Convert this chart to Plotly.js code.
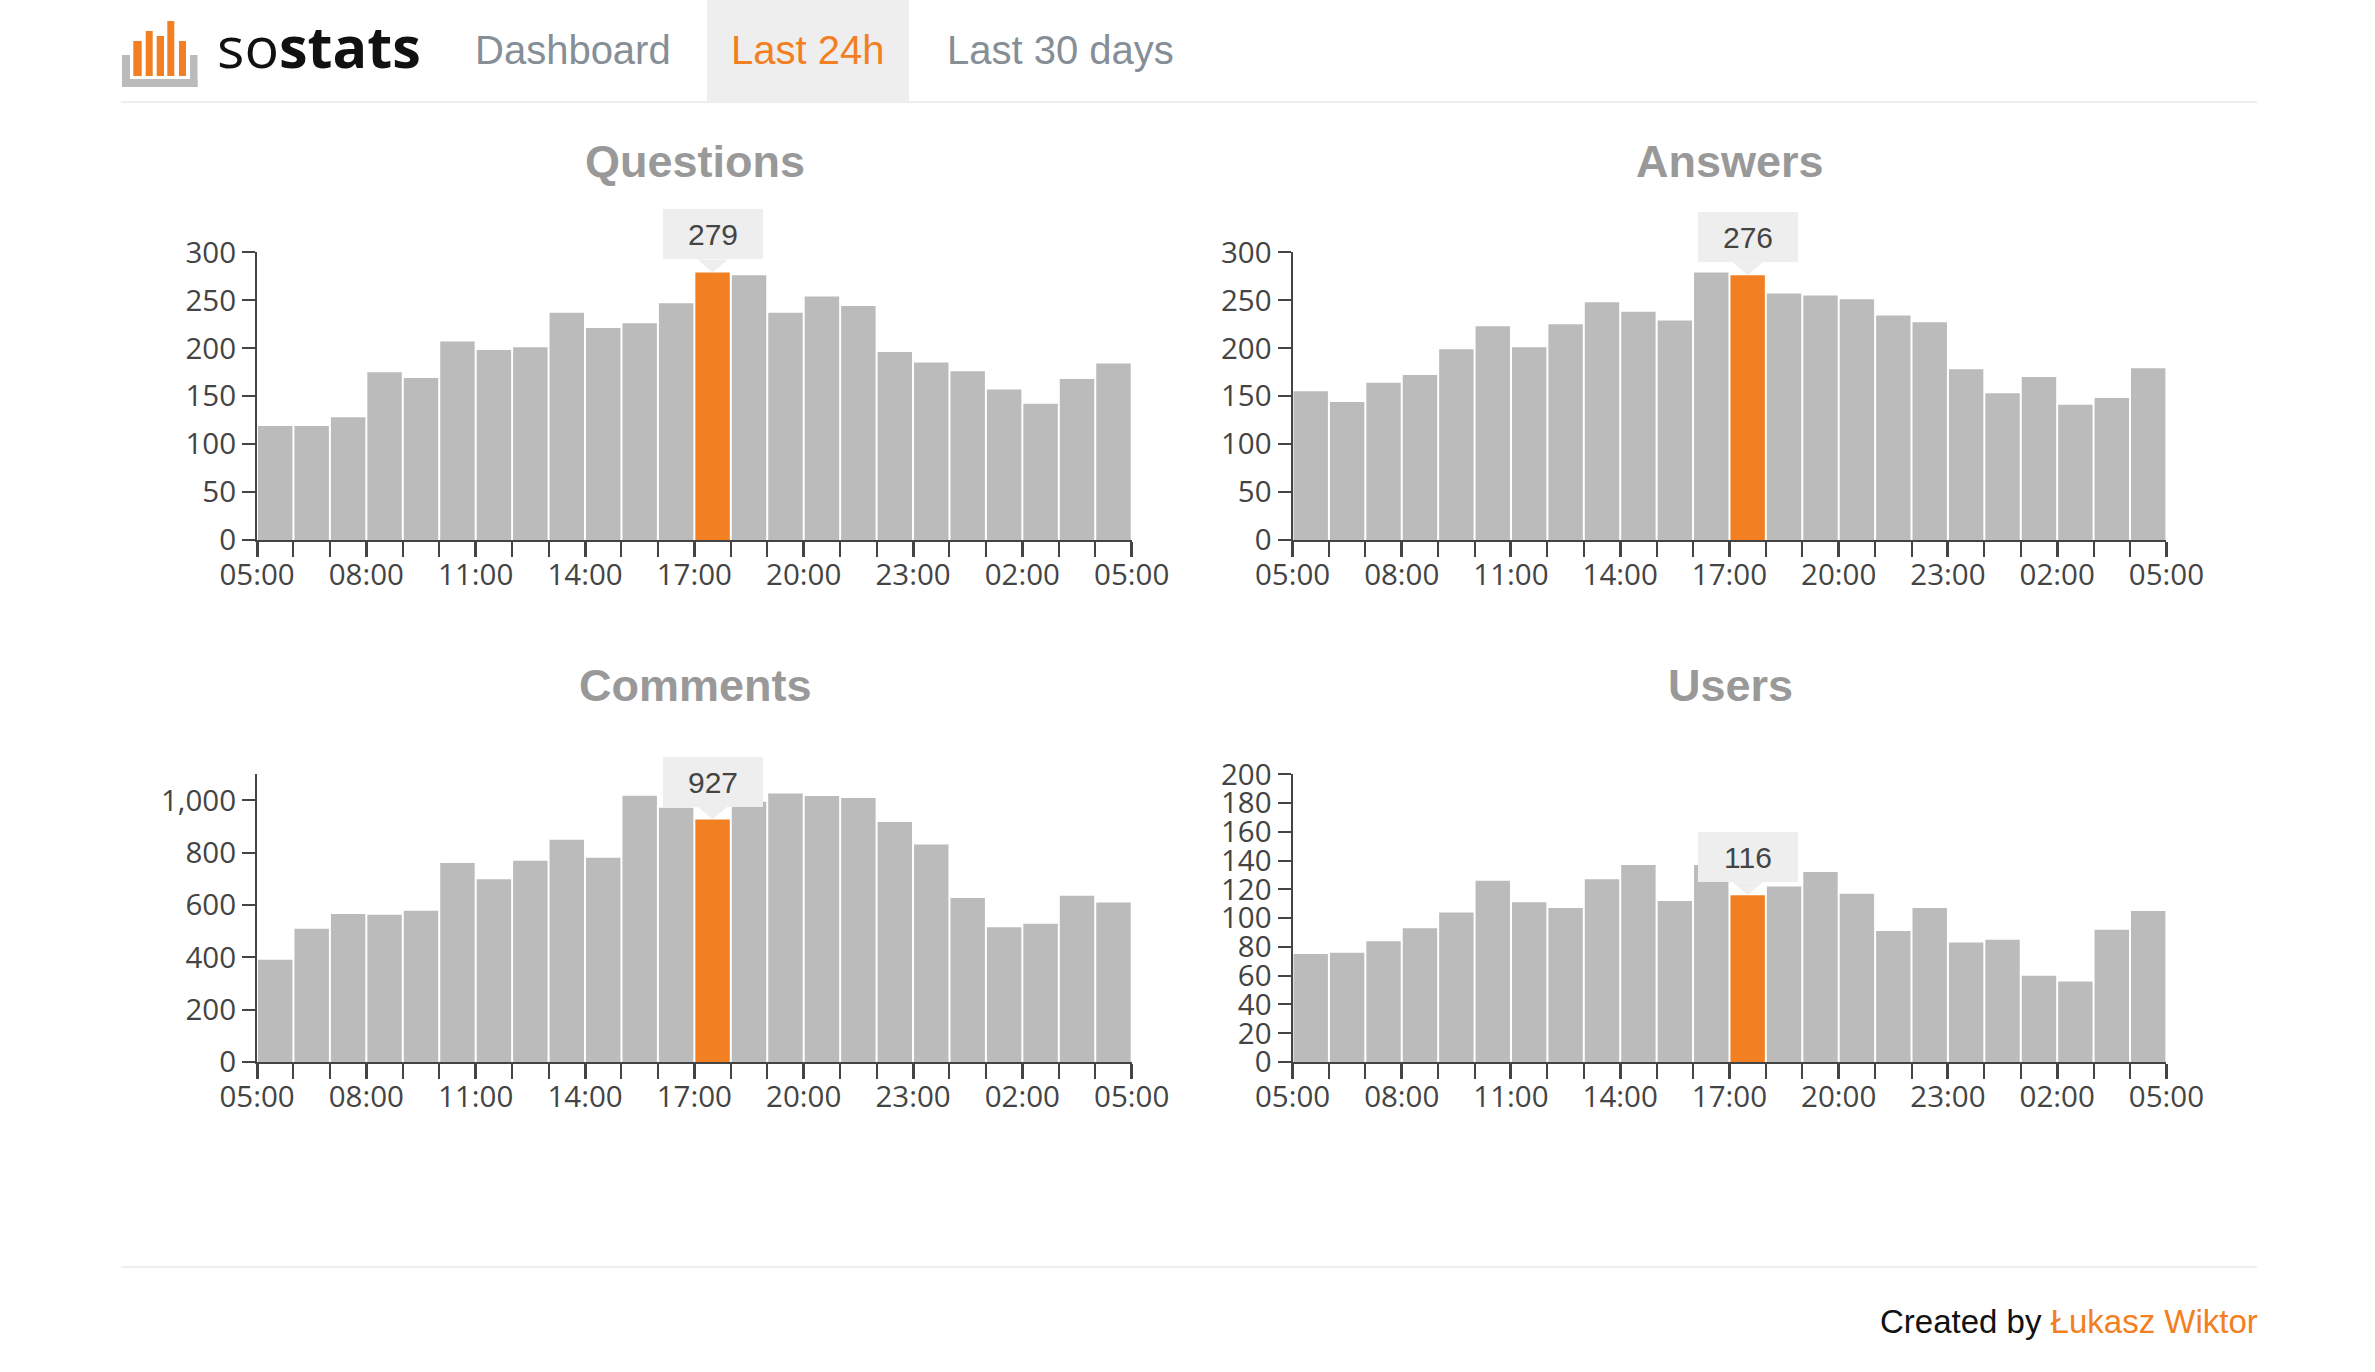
<!DOCTYPE html>
<html>
<head>
<meta charset="utf-8">
<script src="https://cdn.plot.ly/plotly-3.0.1.min.js"></script>
<style>
  html, body { margin: 0; padding: 0; background: #fff; }
  #chart { width: 2375px; height: 1372px; }
</style>
</head>
<body>
<div id="chart"></div>
<script>
// ---------- data ----------
const hourLabels = ['05:00','06:00','07:00','08:00','09:00','10:00','11:00','12:00','13:00','14:00','15:00','16:00',
                    '17:00','18:00','19:00','20:00','21:00','22:00','23:00','00:00','01:00','02:00','03:00','04:00'];
const tickLabels = ['05:00','08:00','11:00','14:00','17:00','20:00','23:00','02:00','05:00'];
const highlightHour = '17:00';

const chartTitles = ['Questions', 'Answers', 'Comments', 'Users'];
const questions = [119,119,128,175,169,207,198,201,237,221,226,247,279,276,237,254,244,196,185,176,157,142,168,184];
const answers   = [155,144,164,172,199,223,201,225,248,238,229,279,276,257,255,251,234,227,178,153,170,141,148,179];
const comments  = [391,509,566,563,578,761,699,769,850,781,1018,972,927,995,1027,1017,1009,918,832,627,515,529,636,610];
const users     = [75,76,84,93,104,126,111,107,127,137,112,137,116,122,132,117,91,107,83,85,60,56,92,105];
const yMax  = [300, 300, 1100, 200];
const yStep = [50, 50, 200, 20];

// ---------- page geometry ----------
const W = 2375, H = 1372;
const px = x => x / W;
const py = y => 1 - y / H;

const GRAY = '#bbbbbb', ORANGE = '#f28022', AXIS = '#444444';
const SANS = 'Liberation Sans, Arial, Helvetica, sans-serif';
const TICKFONT = 'Open Sans, Noto Sans, sans-serif';

const seriesList = [questions, answers, comments, users];
const hiIndex = hourLabels.indexOf(highlightHour);
const xCenters = hourLabels.map((h, i) => i + 0.5);
const tickVals = tickLabels.map((t, i) => i * 3);

// plot boxes (pixels): [left, right, top, bottom]
const boxes = [
  [257, 1131.7, 252.3, 540],
  [1292.5, 2166.4, 252.3, 540],
  [257, 1131.7, 774.3, 1062],
  [1292.5, 2166.4, 774.3, 1062]
];
const titleY = [162, 162, 685, 685];

const data = [];
const layout = {
  width: W, height: H,
  margin: {l: 0, r: 0, t: 0, b: 0},
  paper_bgcolor: '#ffffff',
  plot_bgcolor: 'rgba(0,0,0,0)',
  showlegend: false,
  bargap: 0.055,
  hovermode: false,
  annotations: [],
  shapes: []
};

seriesList.forEach((vals, k) => {
  const n = k === 0 ? '' : String(k + 1);
  const b = boxes[k];
  data.push({
    type: 'bar',
    x: xCenters,
    y: vals,
    xaxis: 'x' + n,
    yaxis: 'y' + n,
    marker: { color: vals.map((v, i) => i === hiIndex ? ORANGE : GRAY), line: {width: 0} },
    hoverinfo: 'skip'
  });
  layout['xaxis' + n] = {
    domain: [px(b[0]), px(b[1])],
    anchor: 'y' + n,
    range: [0, hourLabels.length],
    tickmode: 'array', tickvals: tickVals, ticktext: tickLabels,
    ticks: 'outside', ticklen: 15, tickwidth: 3, tickcolor: AXIS,
    ticklabelstandoff: -7,
    minor: {tickmode: 'linear', tick0: 0, dtick: 1, ticks: 'outside', ticklen: 15, tickwidth: 2, tickcolor: AXIS, showgrid: false},
    showline: true, linecolor: AXIS, linewidth: 2,
    showgrid: false, zeroline: false, fixedrange: true,
    tickfont: {family: TICKFONT, size: 29.5, color: AXIS}
  };
  layout['yaxis' + n] = {
    domain: [py(b[3]), py(b[2])],
    anchor: 'x' + n,
    range: [0, yMax[k]],
    tickmode: 'linear', tick0: 0, dtick: yStep[k],
    tickformat: ',d',
    ticks: 'outside', ticklen: 13, tickwidth: 2, tickcolor: AXIS,
    showline: true, linecolor: AXIS, linewidth: 2,
    showgrid: false, zeroline: false, fixedrange: true,
    tickfont: {family: TICKFONT, size: 29.5, color: AXIS}
  };
  // chart title
  layout.annotations.push({
    xref: 'paper', yref: 'paper', x: px((b[0] + b[1]) / 2 + 1), y: py(titleY[k]),
    xanchor: 'center', yanchor: 'middle', showarrow: false,
    text: '<b>' + chartTitles[k] + '</b>',
    font: {family: SANS, size: 45, color: '#999999'}
  });
  // tooltip box
  layout.annotations.push({
    xref: 'x' + n, yref: 'y' + n, x: xCenters[hiIndex], y: vals[hiIndex],
    xanchor: 'center', yanchor: 'bottom', yshift: 13, showarrow: false,
    text: String(vals[hiIndex]),
    bgcolor: '#eeeeee', width: 100, height: 50, borderpad: 0, borderwidth: 0,
    font: {family: SANS, size: 30, color: '#444444'}
  });
  // tooltip pointer
  layout.shapes.push({
    type: 'path', xref: 'x' + n, yref: 'y' + n,
    xsizemode: 'pixel', ysizemode: 'pixel',
    xanchor: xCenters[hiIndex], yanchor: vals[hiIndex],
    path: 'M -15,13 L 15,13 L 0,0 Z',
    fillcolor: '#eeeeee', line: {width: 0}, layer: 'above'
  });
});

// ---------- header / footer decoration ----------
function rect(x0, y0, x1, y1, color, layer) {
  return {type: 'rect', xref: 'paper', yref: 'paper', x0: px(x0), x1: px(x1), y0: py(y1), y1: py(y0),
          fillcolor: color, line: {width: 0}, layer: layer || 'below'};
}
layout.shapes.push(rect(707, 0, 909, 101, '#eeeeee'));
layout.shapes.push(rect(121, 101, 2257, 103, '#eeeeee'));
layout.shapes.push(rect(121, 1266, 2257, 1268, '#eeeeee'));
// logo tray
layout.shapes.push(rect(122, 55, 130, 87, '#bbbbbb'));
layout.shapes.push(rect(190, 55, 197.5, 87, '#bbbbbb'));
layout.shapes.push(rect(122, 79, 197.5, 87, '#bbbbbb'));
// logo bars
[[133.3, 141.7, 41], [145.7, 152.7, 31], [156.7, 164, 36], [167.3, 174.3, 21], [179, 186, 41]].forEach(r => {
  layout.shapes.push(rect(r[0], r[2], r[1], 76, ORANGE));
});

function txt(x, y, text, font, xanchor) {
  return {xref: 'paper', yref: 'paper', x: px(x), y: py(y), xanchor: xanchor || 'center', yanchor: 'middle',
          showarrow: false, text: text, font: font};
}
layout.annotations.push(txt(215, 46, 'so<b>stats</b>', {family: 'Open Sans, sans-serif', size: 57.5, color: '#111111'}, 'left'));
layout.annotations.push(txt(572.5, 50, 'Dashboard', {family: SANS, size: 40, color: '#868e96'}));
layout.annotations.push(txt(807.5, 50, 'Last 24h', {family: SANS, size: 40, color: ORANGE}));
layout.annotations.push(txt(1060, 50, 'Last 30 days', {family: SANS, size: 40, color: '#868e96'}));
layout.annotations.push(txt(2260, 1321, 'Created by <span style="color:' + ORANGE + '">Łukasz Wiktor</span>',
  {family: SANS, size: 33, color: '#111111'}, 'right'));

Plotly.newPlot('chart', data, layout, {displayModeBar: false, staticPlot: true});
</script>
</body>
</html>
